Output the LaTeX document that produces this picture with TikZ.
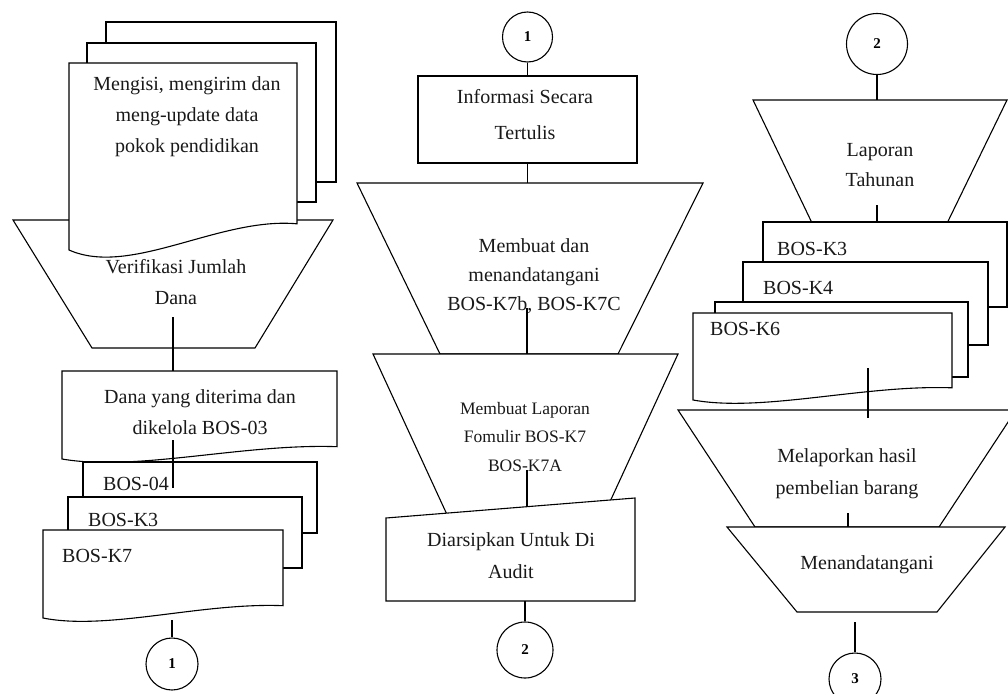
\documentclass[tikz,border=0pt]{standalone}
\usepackage{fontspec}
\setmainfont{Liberation Serif}
\newcommand{\docshape}[4]{(#1,#3) -- (#2,#3) -- (#2,{#4-0.14*(#4-#3)}) .. controls ({#1+0.66*(#2-#1)},{#4-0.178*(#4-#3)}) and ({#1+0.27*(#2-#1)},{#4+0.146*(#4-#3)}) .. (#1,#4) -- cycle}
\begin{document}
\begin{tikzpicture}[x=1pt,y=-1pt,
  shp/.style={draw=black, fill=white, line width=1.1pt},
  conn/.style={draw=black, line width=1.1pt},
  txt/.style={align=center, inner sep=0pt, text=black!90, font=\fontsize{20}{31}\selectfont},
  smalltxt/.style={align=center, inner sep=0pt, text=black!90, font=\fontsize{17.5}{28.5}\selectfont},
  lbl/.style={anchor=west, inner sep=0pt, text=black!90, font=\fontsize{20}{24}\selectfont},
  conc/.style={draw=black, fill=white, circle, inner sep=0pt, line width=1.1pt, font=\bfseries\fontsize{15}{15}\selectfont}]
\clip (0,0) rectangle (1008,693);
\fill[white] (0,0) rectangle (1008,693);

% ---------------- left column ----------------
\draw[shp] (13,220) -- (333,220) -- (255,348) -- (92,348) -- cycle;
\node[txt] (verif) at (176,282) {Verifikasi Jumlah\\Dana};
\draw[shp] (106,22) rectangle (336,182);
\draw[shp] (87,43) rectangle (316,202);
\draw[shp] \docshape{69}{297}{63}{250};
\node[txt] (mengisi) at (187,117) {Mengisi, mengirim dan\\meng-update data\\pokok pendidikan};
\coordinate (l1a) at (173,317);
\coordinate (l1b) at (173,371);
\draw[shp] \docshape{62}{337}{371}{459};
\node[txt] (dana) at (200,412) {Dana yang diterima dan\\dikelola BOS-03};
\draw[shp] (83,462) rectangle (317,533);
\node[lbl] (bos04) at (103,484) {BOS-04};
\draw[shp] (68,497) rectangle (302,568);
\node[lbl] (bosk3l) at (88,520) {BOS-K3};
\draw[shp] \docshape{43}{283}{530}{618};
\node[lbl] (bosk7) at (62,556) {BOS-K7};
\coordinate (l2a) at (173,440);
\coordinate (l2b) at (173,488);
\coordinate (l3a) at (172,620);
\node[conc, minimum size=52pt] (cl1) at (172,664) {1};
\draw[conn] (l1a) -- (l1b);
\draw[conn] (l2a) -- (l2b);
\draw[conn] (l3a) -- (cl1.north);

% ---------------- middle column ----------------
\node[conc, minimum size=50pt] (cm1) at (527.5,37) {1};
\node[draw=black, line width=1.1pt, minimum width=219pt, minimum height=87pt, inner sep=0pt] (info) at (527.5,119.5) {};
\node[txt, font=\fontsize{20}{36}\selectfont] (infotxt) at (525,115) {Informasi Secara\\Tertulis};
\draw[conn] (cm1.south) -- (info.north);
\draw[shp] (357,183) -- (703,183) -- (618,354) -- (440,354) -- cycle;
\coordinate (t2top) at (527.5,183);
\draw[conn] (info.south) -- (t2top);
\node[txt, font=\fontsize{20}{29}\selectfont] (membuat) at (534,276) {Membuat dan\\menandatangani\\BOS-K7b, BOS-K7C};
\draw[shp] (373,354) -- (678,354) -- (590,545) -- (461,545) -- cycle;
\coordinate (m2a) at (527,308);
\coordinate (m2b) at (527,354);
\draw[conn] (m2a) -- (m2b);
\node[smalltxt] (laporan) at (525,437) {Membuat Laporan\\Fomulir BOS-K7\\BOS-K7A};
\draw[shp] (386,518) -- (635,498) -- (635,601) -- (386,601) -- cycle;
\node[txt, font=\fontsize{20}{32}\selectfont] (arsip) at (511,556) {Diarsipkan Untuk Di\\Audit};
\coordinate (m3a) at (527,470);
\coordinate (m3b) at (527,507);
\draw[conn] (m3a) -- (m3b);
\coordinate (m4a) at (525,601);
\node[conc, minimum size=56pt] (cm2) at (525,650) {2};
\draw[conn] (m4a) -- (cm2.north);

% ---------------- right column ----------------
\node[conc, minimum size=61pt] (cr2) at (877,44) {2};
\draw[shp] (753,100) -- (1007,100) -- (935,248) -- (824,248) -- cycle;
\coordinate (r1b) at (877,100);
\draw[conn] (cr2.south) -- (r1b);
\node[txt, font=\fontsize{20}{30}\selectfont] (tahunan) at (880,165) {Laporan\\Tahunan};
\coordinate (r2a) at (877,205);
\coordinate (r2b) at (877,222);
\draw[shp] (763,222) rectangle (1007,307);
\node[lbl] (bosk3r) at (777,249) {BOS-K3};
\draw[shp] (743,262) rectangle (988,345);
\node[lbl] (bosk4) at (763,288) {BOS-K4};
\draw[shp] (715,302) rectangle (968,377);
\draw[shp] \docshape{693}{952}{313}{400};
\node[lbl] (bosk6) at (710,329) {BOS-K6};
\draw[conn] (r2a) -- (r2b);
\draw[shp] (678,410) -- (1016,410) -- (939,527) -- (755,527) -- cycle;
\node[txt, font=\fontsize{20}{32}\selectfont] (melapor) at (847,474) {Melaporkan hasil\\pembelian barang};
\coordinate (r3a) at (868,368);
\coordinate (r3b) at (868,418);
\draw[conn] (r3a) -- (r3b);
\draw[shp] (727,527) -- (1005,527) -- (937,612) -- (797,612) -- cycle;
\node[txt] (tanda) at (867,565) {Menandatangani};
\coordinate (r4a) at (848,513);
\coordinate (r4b) at (848,527);
\draw[conn] (r4a) -- (r4b);
\coordinate (r5a) at (855,622);
\node[conc, minimum size=52pt] (cr3) at (855,679) {3};
\draw[conn] (r5a) -- (cr3.north);
\end{tikzpicture}
\end{document}
